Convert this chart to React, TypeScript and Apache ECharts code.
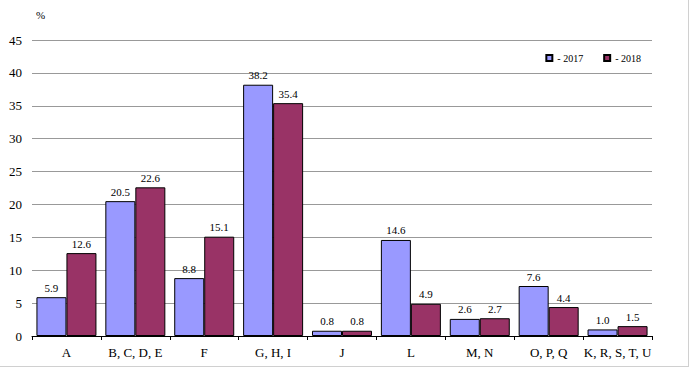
import React, { useEffect, useRef } from "react";
import * as echarts from "echarts";

const categories = ["A", "B, C, D, E", "F", "G, H, I", "J", "L", "M, N", "O, P, Q", "K, R, S, T, U"];
const values2017 = [5.9, 20.5, 8.8, 38.2, 0.8, 14.6, 2.6, 7.6, 1.0];
const values2018 = [12.6, 22.6, 15.1, 35.4, 0.8, 4.9, 2.7, 4.4, 1.5];
const seriesNames = ["- 2017", "- 2018"];

const FONT = "'Liberation Serif', 'Times New Roman', serif";

export default function App() {
  const ref = useRef<HTMLDivElement>(null);
  useEffect(() => {
    if (!ref.current) return;
    const chart = echarts.init(ref.current, undefined, { renderer: "svg" });
    const label = {
      show: true,
      position: "top" as const,
      distance: 4,
      fontFamily: FONT,
      fontSize: 11,
      fontWeight: "normal" as const,
      color: "#000",
      formatter: (p: any) => Number(p.value).toFixed(1),
    };
    chart.setOption({
      animation: false,
      backgroundColor: "#fff",
      textStyle: { fontFamily: FONT },
      grid: { left: 32, right: 38, top: 40, bottom: 33, containLabel: false },
      legend: {
        data: seriesNames,
        right: 44,
        top: 48,
        icon: "rect",
        itemWidth: 6,
        itemHeight: 6,
        itemGap: 20,
        textStyle: { fontFamily: FONT, fontSize: 10, color: "#000" },
      },
      graphic: [
        { type: "text", left: 36, top: 9, style: { text: "%", font: `11px ${FONT}`, fill: "#000" } },
        { type: "line", shape: { x1: 0, y1: 366.5, x2: 688, y2: 366.5 }, style: { stroke: "#d0d0d0", lineWidth: 1 } },
        { type: "line", shape: { x1: 688.5, y1: 0, x2: 688.5, y2: 367 }, style: { stroke: "#d0d0d0", lineWidth: 1 } },
      ],
      xAxis: {
        type: "category",
        data: categories,
        axisLine: { show: true, lineStyle: { color: "#000", width: 1 } },
        axisTick: { show: true, length: 4, interval: 0, lineStyle: { color: "#000" } },
        axisLabel: { fontFamily: FONT, fontSize: 13, color: "#000", margin: 10, interval: 0 },
      },
      yAxis: {
        type: "value",
        min: 0,
        max: 45,
        interval: 5,
        axisLine: { show: false },
        axisTick: { show: false },
        splitLine: { show: true, lineStyle: { color: "#999", width: 1 } },
        axisLabel: { fontFamily: FONT, fontSize: 13, color: "#000", margin: 10 },
      },
      series: [
        {
          name: seriesNames[0],
          type: "bar",
          data: values2017,
          barWidth: 30,
          barGap: "0%",
          itemStyle: { color: "#9999FF", borderColor: "#000", borderWidth: 1 },
          label,
        },
        {
          name: seriesNames[1],
          type: "bar",
          data: values2018,
          barWidth: 30,
          barGap: "0%",
          itemStyle: { color: "#993366", borderColor: "#000", borderWidth: 1 },
          label,
        },
      ],
    });
    return () => chart.dispose();
  }, []);
  return <div ref={ref} style={{ width: 690, height: 369, position: "absolute", left: 0, top: 0 }} />;
}
